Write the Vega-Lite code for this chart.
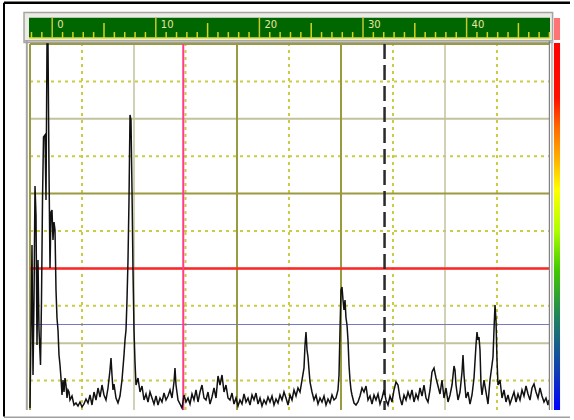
{
  "$schema": "https://vega.github.io/schema/vega-lite/v6.json",
  "width": 566,
  "height": 416,
  "autosize": {"type": "none"},
  "padding": {"left": 4, "top": 2, "right": 4, "bottom": 2},
  "background": "white",
  "config": {"view": {"stroke": null}},
  "datasets": {
    "trace": [
      {"u":-2.143,"v":2.67},{"u":-2.046,"v":23.53},{"u":-1.950,"v":46.26},{"u":-1.853,"v":11.50},{"u":-1.757,"v":31.55},{"u":-1.660,"v":62.03},{"u":-1.564,"v":54.28},{"u":-1.467,"v":19.52},{"u":-1.371,"v":42.25},{"u":-1.274,"v":23.53},{"u":-1.129,"v":14.17},{"u":-1.033,"v":31.55},{"u":-0.936,"v":58.29},{"u":-0.840,"v":75.13},{"u":-0.695,"v":75.67},{"u":-0.598,"v":58.29},{"u":-0.502,"v":100},{"u":-0.405,"v":100},{"u":-0.309,"v":66.31},{"u":-0.212,"v":40.11},{"u":-0.116,"v":55.08},{"u":-0.019,"v":55.61},{"u":0.077,"v":47.59},{"u":0.174,"v":52.41},{"u":0.270,"v":50.27},{"u":0.367,"v":34.22},{"u":0.463,"v":26.74},{"u":0.560,"v":23.53},{"u":0.656,"v":16.84},{"u":0.753,"v":14.17},{"u":0.849,"v":10.70},{"u":0.946,"v":6.15},{"u":1.042,"v":10.16},{"u":1.139,"v":6.95},{"u":1.236,"v":10.70},{"u":1.332,"v":8.82},{"u":1.429,"v":5.35},{"u":1.525,"v":7.49},{"u":1.622,"v":6.95},{"u":1.718,"v":4.81},
      {"u":1.911,"v":5.88},{"u":2.104,"v":3.48},{"u":2.297,"v":4.01},{"u":2.490,"v":3.21},{"u":2.683,"v":4.28},{"u":2.876,"v":2.94},{"u":3.069,"v":3.74},{"u":3.262,"v":5.08},{"u":3.456,"v":4.01},{"u":3.649,"v":6.15},{"u":3.842,"v":3.48},{"u":4.035,"v":6.95},{"u":4.228,"v":4.81},{"u":4.421,"v":8.02},{"u":4.614,"v":5.61},{"u":4.807,"v":8.82},{"u":5.000,"v":6.15},{"u":5.193,"v":4.81},{"u":5.386,"v":8.02},{"u":5.579,"v":12.83},{"u":5.676,"v":16.04},{"u":5.772,"v":11.50},{"u":5.869,"v":7.49},{"u":5.965,"v":9.09},{"u":6.158,"v":5.35},{"u":6.351,"v":4.01},{"u":6.544,"v":5.88},{"u":6.737,"v":10.16},{"u":6.931,"v":16.84},{"u":7.027,"v":20.86},{"u":7.124,"v":23.53},{"u":7.220,"v":31.55},{"u":7.317,"v":42.25},{"u":7.413,"v":58.29},{"u":7.510,"v":81.02},{"u":7.606,"v":79.68},{"u":7.703,"v":60.96},{"u":7.799,"v":39.57},{"u":7.896,"v":23.53},{"u":7.992,"v":14.97},{"u":8.089,"v":8.82},{"u":8.282,"v":10.70},{"u":8.475,"v":6.95},{"u":8.668,"v":8.56},{"u":8.861,"v":4.81},{"u":9.054,"v":6.42},{"u":9.247,"v":4.28},{"u":9.440,"v":6.95},{"u":9.633,"v":5.35},{"u":9.826,"v":3.74},{"u":10.019,"v":5.88},{"u":10.212,"v":3.48},{"u":10.405,"v":5.35},{"u":10.598,"v":4.28},{"u":10.792,"v":6.68},{"u":10.985,"v":4.81},{"u":11.178,"v":5.88},{"u":11.371,"v":7.49},{"u":11.564,"v":5.35},{"u":11.757,"v":9.63},{"u":11.853,"v":13.37},{"u":11.950,"v":8.82},{"u":12.143,"v":4.81},{"u":12.336,"v":3.74},{"u":12.529,"v":2.67},{"u":12.722,"v":6.15},{"u":12.915,"v":4.28},{"u":13.108,"v":5.35},{"u":13.301,"v":3.74},{"u":13.494,"v":6.42},{"u":13.687,"v":4.81},{"u":13.880,"v":7.49},{"u":14.073,"v":4.28},{"u":14.266,"v":6.95},{"u":14.459,"v":8.82},{"u":14.653,"v":5.35},{"u":14.846,"v":4.81},{"u":15.039,"v":6.95},{"u":15.232,"v":3.74},{"u":15.425,"v":5.61},{"u":15.618,"v":8.02},{"u":15.811,"v":5.35},{"u":16.004,"v":11.23},{"u":16.197,"v":8.82},{"u":16.390,"v":11.50},{"u":16.583,"v":6.95},{"u":16.776,"v":8.82},{"u":16.969,"v":5.35},{"u":17.162,"v":4.81},{"u":17.355,"v":6.68},{"u":17.548,"v":3.74},{"u":17.741,"v":5.35},{"u":17.934,"v":3.21},{"u":18.127,"v":4.81},{"u":18.320,"v":3.74},{"u":18.514,"v":6.42},{"u":18.707,"v":4.28},{"u":18.900,"v":5.35},{"u":19.093,"v":3.48},{"u":19.286,"v":6.15},{"u":19.479,"v":4.81},{"u":19.672,"v":6.68},{"u":19.865,"v":3.74},{"u":20.058,"v":5.35},{"u":20.251,"v":3.21},{"u":20.444,"v":4.81},{"u":20.637,"v":3.74},{"u":20.830,"v":5.61},{"u":21.023,"v":4.28},{"u":21.216,"v":5.88},{"u":21.409,"v":3.48},{"u":21.602,"v":5.08},{"u":21.795,"v":4.01},{"u":21.988,"v":6.15},{"u":22.181,"v":4.81},{"u":22.375,"v":6.95},{"u":22.568,"v":5.35},{"u":22.761,"v":3.48},{"u":22.954,"v":6.15},{"u":23.147,"v":4.81},{"u":23.340,"v":7.49},{"u":23.533,"v":5.88},{"u":23.726,"v":8.02},{"u":23.919,"v":6.95},{"u":24.112,"v":10.16},{"u":24.305,"v":13.37},{"u":24.402,"v":19.52},{"u":24.498,"v":22.99},{"u":24.595,"v":18.18},{"u":24.691,"v":16.31},{"u":24.788,"v":12.83},{"u":24.884,"v":9.63},{"u":25.077,"v":6.95},{"u":25.270,"v":4.81},{"u":25.463,"v":6.15},{"u":25.656,"v":3.74},{"u":25.849,"v":5.35},{"u":26.042,"v":4.28},{"u":26.236,"v":5.88},{"u":26.429,"v":3.48},{"u":26.622,"v":5.08},{"u":26.815,"v":4.01},{"u":27.008,"v":6.15},{"u":27.201,"v":4.81},{"u":27.394,"v":5.35},{"u":27.587,"v":7.49},{"u":27.684,"v":11.50},{"u":27.780,"v":23.53},{"u":27.877,"v":34.22},{"u":27.973,"v":35.03},{"u":28.070,"v":31.55},{"u":28.166,"v":28.88},{"u":28.263,"v":31.55},{"u":28.359,"v":26.74},{"u":28.456,"v":24.87},{"u":28.552,"v":20.86},{"u":28.649,"v":14.17},{"u":28.745,"v":10.16},{"u":28.842,"v":7.49},{"u":28.938,"v":6.15},{"u":29.131,"v":4.01},{"u":29.324,"v":3.48},{"u":29.517,"v":4.28},{"u":29.710,"v":5.88},{"u":29.903,"v":8.02},{"u":30.097,"v":6.95},{"u":30.290,"v":8.56},{"u":30.483,"v":4.81},{"u":30.676,"v":5.88},{"u":30.869,"v":3.74},{"u":31.062,"v":6.15},{"u":31.255,"v":4.81},{"u":31.448,"v":6.42},{"u":31.641,"v":3.74},{"u":31.834,"v":5.35},{"u":32.027,"v":7.49},{"u":32.220,"v":4.81},{"u":32.413,"v":3.48},{"u":32.606,"v":5.88},{"u":32.799,"v":4.28},{"u":32.992,"v":7.49},{"u":33.185,"v":9.63},{"u":33.378,"v":8.82},{"u":33.571,"v":5.35},{"u":33.764,"v":3.48},{"u":33.958,"v":6.15},{"u":34.151,"v":4.81},{"u":34.344,"v":6.95},{"u":34.537,"v":5.35},{"u":34.730,"v":7.49},{"u":34.923,"v":4.28},{"u":35.116,"v":6.42},{"u":35.309,"v":5.08},{"u":35.502,"v":8.02},{"u":35.695,"v":5.88},{"u":35.888,"v":8.82},{"u":36.081,"v":5.35},{"u":36.274,"v":4.28},{"u":36.467,"v":7.49},{"u":36.660,"v":12.30},{"u":36.853,"v":13.37},{"u":37.046,"v":10.70},{"u":37.239,"v":8.56},{"u":37.432,"v":6.42},{"u":37.625,"v":10.16},{"u":37.819,"v":5.35},{"u":38.012,"v":8.02},{"u":38.205,"v":4.28},{"u":38.398,"v":6.15},{"u":38.591,"v":8.82},{"u":38.784,"v":13.90},{"u":38.880,"v":12.83},{"u":38.977,"v":8.82},{"u":39.170,"v":4.81},{"u":39.363,"v":6.95},{"u":39.556,"v":12.30},{"u":39.652,"v":16.84},{"u":39.749,"v":11.50},{"u":39.942,"v":5.35},{"u":40.135,"v":6.95},{"u":40.328,"v":3.74},{"u":40.521,"v":6.15},{"u":40.714,"v":10.70},{"u":40.907,"v":19.52},{"u":41.003,"v":22.99},{"u":41.100,"v":20.86},{"u":41.196,"v":21.66},{"u":41.293,"v":18.18},{"u":41.390,"v":8.82},{"u":41.486,"v":6.15},{"u":41.679,"v":10.16},{"u":41.872,"v":6.95},{"u":42.065,"v":3.74},{"u":42.258,"v":10.16},{"u":42.451,"v":14.17},{"u":42.548,"v":16.31},{"u":42.644,"v":23.53},{"u":42.741,"v":30.21},{"u":42.837,"v":26.20},{"u":42.934,"v":15.51},{"u":43.030,"v":8.82},{"u":43.223,"v":10.16},{"u":43.416,"v":5.35},{"u":43.609,"v":7.49},{"u":43.802,"v":4.28},{"u":43.995,"v":6.15},{"u":44.188,"v":3.74},{"u":44.381,"v":5.35},{"u":44.575,"v":6.95},{"u":44.768,"v":4.28},{"u":44.961,"v":6.42},{"u":45.154,"v":4.81},{"u":45.347,"v":7.49},{"u":45.540,"v":5.88},{"u":45.733,"v":8.56},{"u":45.926,"v":6.42},{"u":46.119,"v":4.81},{"u":46.312,"v":8.02},{"u":46.505,"v":9.09},{"u":46.698,"v":6.95},{"u":46.891,"v":5.35},{"u":47.084,"v":8.02},{"u":47.277,"v":5.88},{"u":47.470,"v":4.28},{"u":47.663,"v":5.35},{"u":47.856,"v":3.48},{"u":47.953,"v":4.81}
    ],
    "grid": [
      {"kind":"dot","u":-2.143,"u2":47.953,"v":90},
      {"kind":"dot","u":-2.143,"u2":47.953,"v":70},
      {"kind":"dot","u":-2.143,"u2":47.953,"v":50},
      {"kind":"dot","u":-2.143,"u2":47.953,"v":30},
      {"kind":"dot","u":-2.143,"u2":47.953,"v":10},
      {"kind":"light","u":-2.143,"u2":47.953,"v":80},
      {"kind":"light","u":-2.143,"u2":47.953,"v":40},
      {"kind":"light","u":-2.143,"u2":47.953,"v":20},
      {"kind":"dark","u":-2.143,"u2":47.953,"v":60},
      {"kind":"dark","u":-2.143,"u2":47.953,"v":100}
    ],
    "vgrid": [
      {"kind":"dot","u":2.876,"v":2.14,"v2":100},
      {"kind":"dot","u":12.867,"v":2.14,"v2":100},
      {"kind":"dot","u":22.857,"v":2.14,"v2":100},
      {"kind":"dot","u":32.896,"v":2.14,"v2":100},
      {"kind":"dot","u":42.934,"v":2.14,"v2":100},
      {"kind":"light","u":7.896,"v":2.14,"v2":100},
      {"kind":"light","u":37.915,"v":2.14,"v2":100},
      {"kind":"dark","u":-2.143,"v":2.14,"v2":100},
      {"kind":"dark","u":17.838,"v":2.14,"v2":100},
      {"kind":"dark","u":27.877,"v":2.14,"v2":100}
    ],
    "ticks": [
      {"kind":"small","u":-2},{"kind":"small","u":-1},{"kind":"major","u":0},{"kind":"small","u":1},{"kind":"small","u":2},{"kind":"small","u":3},{"kind":"small","u":4},{"kind":"mid","u":5},{"kind":"small","u":6},{"kind":"small","u":7},{"kind":"small","u":8},{"kind":"small","u":9},
      {"kind":"major","u":10},{"kind":"small","u":11},{"kind":"small","u":12},{"kind":"small","u":13},{"kind":"small","u":14},{"kind":"mid","u":15},{"kind":"small","u":16},{"kind":"small","u":17},{"kind":"small","u":18},{"kind":"small","u":19},
      {"kind":"major","u":20},{"kind":"small","u":21},{"kind":"small","u":22},{"kind":"small","u":23},{"kind":"small","u":24},{"kind":"mid","u":25},{"kind":"small","u":26},{"kind":"small","u":27},{"kind":"small","u":28},{"kind":"small","u":29},
      {"kind":"major","u":30},{"kind":"small","u":31},{"kind":"small","u":32},{"kind":"small","u":33},{"kind":"small","u":34},{"kind":"mid","u":35},{"kind":"small","u":36},{"kind":"small","u":37},{"kind":"small","u":38},{"kind":"small","u":39},
      {"kind":"major","u":40},{"kind":"small","u":41},{"kind":"small","u":42},{"kind":"small","u":43},{"kind":"small","u":44},{"kind":"mid","u":45},{"kind":"small","u":46},{"kind":"small","u":47},{"kind":"small","u":48}
    ],
    "labels": [
      {"u":0,"label":"0"},{"u":10,"label":"10"},{"u":20,"label":"20"},{"u":30,"label":"30"},{"u":40,"label":"40"}
    ],
    "one": [{"id":1}]
  },
  "layer": [
    {
      "data": {"name": "one"},
      "mark": {"type": "rect", "fill": "#ecebe6", "stroke": "#a4a4a0", "strokeWidth": 1.5},
      "encoding": {
        "x": {"datum": -2.72, "type": "quantitative", "scale": {"domain": [-4.6525, 49.98], "nice": false, "zero": false}, "axis": null},
        "x2": {"datum": 48.3},
        "y": {"datum": 100.4, "type": "quantitative", "scale": {"domain": [0, 111.23], "nice": false, "zero": false}, "axis": null},
        "y2": {"datum": 108.4}
      }
    },
    {
      "data": {"name": "one"},
      "mark": {"type": "rect", "fill": "#006600"},
      "encoding": {
        "x": {"datum": -2.24, "type": "quantitative", "scale": {"domain": [-4.6525, 49.98], "nice": false, "zero": false}, "axis": null},
        "x2": {"datum": 48.05},
        "y": {"datum": 101.6, "type": "quantitative", "scale": {"domain": [0, 111.23], "nice": false, "zero": false}, "axis": null},
        "y2": {"datum": 107.0}
      }
    },
    {
      "data": {"name": "one"},
      "mark": {"type": "rule", "color": "#e0e020", "strokeWidth": 1.5},
      "encoding": {
        "x": {"datum": -2.24, "type": "quantitative", "scale": {"domain": [-4.6525, 49.98], "nice": false, "zero": false}, "axis": null},
        "x2": {"datum": 48.05},
        "y": {"datum": 101.6, "type": "quantitative", "scale": {"domain": [0, 111.23], "nice": false, "zero": false}, "axis": null}
      }
    },
    {
      "data": {"name": "one"},
      "mark": {"type": "rule", "color": "#a8a8a8", "strokeWidth": 1.5},
      "encoding": {
        "x": {"datum": -2.72, "type": "quantitative", "scale": {"domain": [-4.6525, 49.98], "nice": false, "zero": false}, "axis": null},
        "x2": {"datum": 48.3},
        "y": {"datum": 100.85, "type": "quantitative", "scale": {"domain": [0, 111.23], "nice": false, "zero": false}, "axis": null}
      }
    },
    {
      "data": {"name": "ticks"},
      "transform": [{"filter": "datum.kind == 'small'"}],
      "mark": {"type": "rule", "color": "#d4d420", "strokeWidth": 1.5},
      "encoding": {
        "x": {"field": "u", "type": "quantitative", "scale": {"domain": [-4.6525, 49.98], "nice": false, "zero": false}, "axis": null},
        "y": {"datum": 101.6, "type": "quantitative", "scale": {"domain": [0, 111.23], "nice": false, "zero": false}, "axis": null},
        "y2": {"datum": 103.2}
      }
    },
    {
      "data": {"name": "ticks"},
      "transform": [{"filter": "datum.kind == 'mid'"}],
      "mark": {"type": "rule", "color": "#d4d420", "strokeWidth": 1.5},
      "encoding": {
        "x": {"field": "u", "type": "quantitative", "scale": {"domain": [-4.6525, 49.98], "nice": false, "zero": false}, "axis": null},
        "y": {"datum": 101.6, "type": "quantitative", "scale": {"domain": [0, 111.23], "nice": false, "zero": false}, "axis": null},
        "y2": {"datum": 105.6}
      }
    },
    {
      "data": {"name": "ticks"},
      "transform": [{"filter": "datum.kind == 'major'"}],
      "mark": {"type": "rule", "color": "#c8c830", "strokeWidth": 1.5},
      "encoding": {
        "x": {"field": "u", "type": "quantitative", "scale": {"domain": [-4.6525, 49.98], "nice": false, "zero": false}, "axis": null},
        "y": {"datum": 101.6, "type": "quantitative", "scale": {"domain": [0, 111.23], "nice": false, "zero": false}, "axis": null},
        "y2": {"datum": 107.0}
      }
    },
    {
      "data": {"name": "labels"},
      "mark": {"type": "text", "align": "left", "baseline": "alphabetic", "dx": 5, "font": "DejaVu Sans", "fontSize": 10, "color": "#e6e6a0"},
      "encoding": {
        "x": {"field": "u", "type": "quantitative", "scale": {"domain": [-4.6525, 49.98], "nice": false, "zero": false}, "axis": null},
        "y": {"datum": 104.3, "type": "quantitative", "scale": {"domain": [0, 111.23], "nice": false, "zero": false}, "axis": null},
        "text": {"field": "label"}
      }
    },
    {
      "data": {"name": "grid"},
      "transform": [{"filter": "datum.kind == 'dot'"}],
      "mark": {"type": "rule", "color": "#cccc44", "strokeWidth": 2, "strokeDash": [3, 4]},
      "encoding": {
        "x": {"field": "u", "type": "quantitative", "scale": {"domain": [-4.6525, 49.98], "nice": false, "zero": false}, "axis": null},
        "x2": {"field": "u2"},
        "y": {"field": "v", "type": "quantitative", "scale": {"domain": [0, 111.23], "nice": false, "zero": false}, "axis": null}
      }
    },
    {
      "data": {"name": "vgrid"},
      "transform": [{"filter": "datum.kind == 'dot'"}],
      "mark": {"type": "rule", "color": "#cccc44", "strokeWidth": 2, "strokeDash": [3, 4]},
      "encoding": {
        "x": {"field": "u", "type": "quantitative", "scale": {"domain": [-4.6525, 49.98], "nice": false, "zero": false}, "axis": null},
        "y": {"field": "v", "type": "quantitative", "scale": {"domain": [0, 111.23], "nice": false, "zero": false}, "axis": null},
        "y2": {"field": "v2"}
      }
    },
    {
      "data": {"name": "grid"},
      "transform": [{"filter": "datum.kind == 'light'"}],
      "mark": {"type": "rule", "color": "#c2c29c", "strokeWidth": 2},
      "encoding": {
        "x": {"field": "u", "type": "quantitative", "scale": {"domain": [-4.6525, 49.98], "nice": false, "zero": false}, "axis": null},
        "x2": {"field": "u2"},
        "y": {"field": "v", "type": "quantitative", "scale": {"domain": [0, 111.23], "nice": false, "zero": false}, "axis": null}
      }
    },
    {
      "data": {"name": "vgrid"},
      "transform": [{"filter": "datum.kind == 'light'"}],
      "mark": {"type": "rule", "color": "#c2c29c", "strokeWidth": 1.5},
      "encoding": {
        "x": {"field": "u", "type": "quantitative", "scale": {"domain": [-4.6525, 49.98], "nice": false, "zero": false}, "axis": null},
        "y": {"field": "v", "type": "quantitative", "scale": {"domain": [0, 111.23], "nice": false, "zero": false}, "axis": null},
        "y2": {"field": "v2"}
      }
    },
    {
      "data": {"name": "grid"},
      "transform": [{"filter": "datum.kind == 'dark'"}],
      "mark": {"type": "rule", "color": "#9a9a40", "strokeWidth": 2},
      "encoding": {
        "x": {"field": "u", "type": "quantitative", "scale": {"domain": [-4.6525, 49.98], "nice": false, "zero": false}, "axis": null},
        "x2": {"field": "u2"},
        "y": {"field": "v", "type": "quantitative", "scale": {"domain": [0, 111.23], "nice": false, "zero": false}, "axis": null}
      }
    },
    {
      "data": {"name": "vgrid"},
      "transform": [{"filter": "datum.kind == 'dark'"}],
      "mark": {"type": "rule", "color": "#9a9a40", "strokeWidth": 2},
      "encoding": {
        "x": {"field": "u", "type": "quantitative", "scale": {"domain": [-4.6525, 49.98], "nice": false, "zero": false}, "axis": null},
        "y": {"field": "v", "type": "quantitative", "scale": {"domain": [0, 111.23], "nice": false, "zero": false}, "axis": null},
        "y2": {"field": "v2"}
      }
    },
    {
      "data": {"name": "one"},
      "mark": {"type": "rule", "color": "#7878c4", "strokeWidth": 1.2},
      "encoding": {
        "x": {"datum": -2.143, "type": "quantitative", "scale": {"domain": [-4.6525, 49.98], "nice": false, "zero": false}, "axis": null},
        "x2": {"datum": 47.953},
        "y": {"datum": 25, "type": "quantitative", "scale": {"domain": [0, 111.23], "nice": false, "zero": false}, "axis": null}
      }
    },
    {
      "data": {"name": "one"},
      "mark": {"type": "rule", "color": "#ff2828", "strokeWidth": 2.5},
      "encoding": {
        "x": {"datum": -2.143, "type": "quantitative", "scale": {"domain": [-4.6525, 49.98], "nice": false, "zero": false}, "axis": null},
        "x2": {"datum": 47.953},
        "y": {"datum": 40, "type": "quantitative", "scale": {"domain": [0, 111.23], "nice": false, "zero": false}, "axis": null}
      }
    },
    {
      "data": {"name": "one"},
      "mark": {"type": "rule", "color": "#ff3c8c", "strokeWidth": 2},
      "encoding": {
        "x": {"datum": 12.65, "type": "quantitative", "scale": {"domain": [-4.6525, 49.98], "nice": false, "zero": false}, "axis": null},
        "y": {"datum": 2.14, "type": "quantitative", "scale": {"domain": [0, 111.23], "nice": false, "zero": false}, "axis": null},
        "y2": {"datum": 100}
      }
    },
    {
      "data": {"name": "one"},
      "mark": {"type": "rule", "color": "#2a2a2a", "strokeWidth": 2.5, "strokeDash": [15, 6]},
      "encoding": {
        "x": {"datum": 32.08, "type": "quantitative", "scale": {"domain": [-4.6525, 49.98], "nice": false, "zero": false}, "axis": null},
        "y": {"datum": 100, "type": "quantitative", "scale": {"domain": [0, 111.23], "nice": false, "zero": false}, "axis": null},
        "y2": {"datum": 2.14}
      }
    },
    {
      "data": {"name": "trace"},
      "mark": {"type": "line", "color": "#111111", "strokeWidth": 1.5, "interpolate": "linear"},
      "encoding": {
        "x": {"field": "u", "type": "quantitative", "scale": {"domain": [-4.6525, 49.98], "nice": false, "zero": false}, "axis": null},
        "y": {"field": "v", "type": "quantitative", "scale": {"domain": [0, 111.23], "nice": false, "zero": false}, "axis": null}
      }
    },
    {
      "data": {"name": "one"},
      "mark": {"type": "rule", "color": "#a4a4a4", "strokeWidth": 2},
      "encoding": {
        "x": {"datum": -2.45, "type": "quantitative", "scale": {"domain": [-4.6525, 49.98], "nice": false, "zero": false}, "axis": null},
        "y": {"datum": 2.14, "type": "quantitative", "scale": {"domain": [0, 111.23], "nice": false, "zero": false}, "axis": null},
        "y2": {"datum": 100.85}
      }
    },
    {
      "data": {"name": "one"},
      "mark": {"type": "rule", "color": "#808080", "strokeWidth": 1.2},
      "encoding": {
        "x": {"datum": 47.99, "type": "quantitative", "scale": {"domain": [-4.6525, 49.98], "nice": false, "zero": false}, "axis": null},
        "y": {"datum": 2.14, "type": "quantitative", "scale": {"domain": [0, 111.23], "nice": false, "zero": false}, "axis": null},
        "y2": {"datum": 100.85}
      }
    },
    {
      "data": {"name": "one"},
      "mark": {"type": "rule", "color": "#b4b4b4", "strokeWidth": 1.5},
      "encoding": {
        "x": {"datum": 48.24, "type": "quantitative", "scale": {"domain": [-4.6525, 49.98], "nice": false, "zero": false}, "axis": null},
        "y": {"datum": 2.14, "type": "quantitative", "scale": {"domain": [0, 111.23], "nice": false, "zero": false}, "axis": null},
        "y2": {"datum": 100.85}
      }
    },
    {
      "data": {"name": "one"},
      "mark": {"type": "rect", "fill": {"gradient": "linear", "x1": 0, "y1": 0, "x2": 0, "y2": 1, "stops": [
        {"offset": 0, "color": "#ff0000"},
        {"offset": 0.15, "color": "#ff1000"},
        {"offset": 0.23, "color": "#ff6a00"},
        {"offset": 0.315, "color": "#ffb000"},
        {"offset": 0.4, "color": "#ffff00"},
        {"offset": 0.51, "color": "#b0ff00"},
        {"offset": 0.62, "color": "#40c800"},
        {"offset": 0.75, "color": "#208060"},
        {"offset": 0.89, "color": "#1040b0"},
        {"offset": 1, "color": "#0000ff"}
      ]}},
      "encoding": {
        "x": {"datum": 48.43, "type": "quantitative", "scale": {"domain": [-4.6525, 49.98], "nice": false, "zero": false}, "axis": null},
        "x2": {"datum": 49.02},
        "y": {"datum": 2.14, "type": "quantitative", "scale": {"domain": [0, 111.23], "nice": false, "zero": false}, "axis": null},
        "y2": {"datum": 100.3}
      }
    },
    {
      "data": {"name": "one"},
      "mark": {"type": "rect", "fill": "#ff7474"},
      "encoding": {
        "x": {"datum": 48.43, "type": "quantitative", "scale": {"domain": [-4.6525, 49.98], "nice": false, "zero": false}, "axis": null},
        "x2": {"datum": 49.02},
        "y": {"datum": 101.07, "type": "quantitative", "scale": {"domain": [0, 111.23], "nice": false, "zero": false}, "axis": null},
        "y2": {"datum": 106.95}
      }
    },
    {
      "data": {"name": "one"},
      "mark": {"type": "rule", "color": "#a0a0a0", "strokeWidth": 1.5},
      "encoding": {
        "x": {"datum": -4.6525, "type": "quantitative", "scale": {"domain": [-4.6525, 49.98], "nice": false, "zero": false}, "axis": null},
        "x2": {"datum": 49.98},
        "y": {"datum": 0.2, "type": "quantitative", "scale": {"domain": [0, 111.23], "nice": false, "zero": false}, "axis": null}
      }
    },
    {
      "data": {"name": "one"},
      "mark": {"type": "rule", "color": "#000000", "strokeWidth": 2.5},
      "encoding": {
        "x": {"datum": -4.6525, "type": "quantitative", "scale": {"domain": [-4.6525, 49.98], "nice": false, "zero": false}, "axis": null},
        "x2": {"datum": 49.98},
        "y": {"datum": 111.0, "type": "quantitative", "scale": {"domain": [0, 111.23], "nice": false, "zero": false}, "axis": null}
      }
    },
    {
      "data": {"name": "one"},
      "mark": {"type": "rule", "color": "#000000", "strokeWidth": 2},
      "encoding": {
        "x": {"datum": -4.6525, "type": "quantitative", "scale": {"domain": [-4.6525, 49.98], "nice": false, "zero": false}, "axis": null},
        "y": {"datum": 0.4, "type": "quantitative", "scale": {"domain": [0, 111.23], "nice": false, "zero": false}, "axis": null},
        "y2": {"datum": 111.0}
      }
    }
  ]
}
